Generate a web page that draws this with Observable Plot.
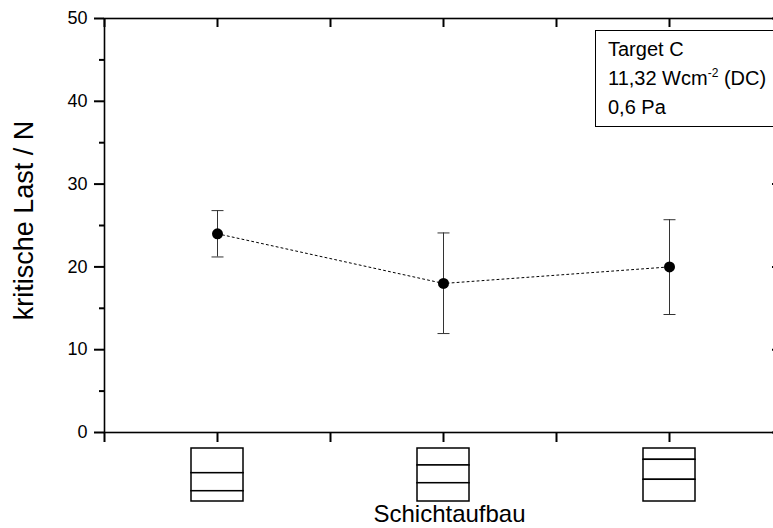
<!DOCTYPE html>
<html>
<head>
<meta charset="utf-8">
<script src="https://cdn.jsdelivr.net/npm/d3@7"></script>
<script src="https://cdn.jsdelivr.net/npm/@observablehq/plot@0.6"></script>
<style>
  html, body { margin: 0; padding: 0; background: #fff; overflow: hidden; }
  #wrap { position: relative; width: 773px; height: 528px; overflow: hidden; background: #fff; }
  #main { position: absolute; left: 0; top: 0; }
  #icons { position: absolute; left: 0; top: 447px; }
  #wrap svg { max-width: none !important; display: block; }
  #legend { position: absolute; left: 595px; top: 30px; width: 200px; height: 97px; box-sizing: border-box;
            border: 1px solid #000; background: #fff; font-family: "Liberation Sans", Arial, sans-serif; font-size: 20px; color: #000; }
  #legend .l { position: absolute; left: 12px; line-height: 29px; white-space: nowrap; }
  #legend sup { font-size: 12px; line-height: 0; vertical-align: 8px; }
</style>
</head>
<body>
<div id="wrap">
  <div id="main"></div>
  <div id="icons"></div>
  <div id="legend"></div>
</div>
<script>
// ---- data ----
const categories = [1, 2, 3];
const values = [24.0, 18.0, 20.0];
const errLow = [21.2, 11.95, 14.25];
const errHigh = [26.8, 24.1, 25.7];
const yTicks = [0, 10, 20, 30, 40, 50];
const yMinorTicks = [5, 15, 25, 35, 45];
const xTicks = [0.5, 1, 1.5, 2, 2.5, 3, 3.5];
// layer boundaries of the layer-stack schematic (fraction of stack height from top)
const layerBounds = [
  [0, 0.466, 0.806, 1],
  [0, 0.32, 0.655, 1],
  [0, 0.213, 0.59, 1]
];
const xLabel = "Schichtaufbau";
const yLabel = "kritische Last / N";
const legendLines = ["Target C", "11,32 Wcm<sup>-2</sup> (DC)", "0,6 Pa"];

// ---- derived tables ----
const data = categories.map((c, i) => ({x: c, y: values[i], lo: errLow[i], hi: errHigh[i]}));
const layers = [];
categories.forEach((c, i) => {
  const b = layerBounds[i];
  for (let k = 0; k < b.length - 1; k++) layers.push({cat: c, top: b[k], bot: b[k + 1]});
});

const W = 790, H = 528, mL = 104, mR = 8, mT = 18, mB = 96;
const frameW = W - mL - mR, frameH = H - mT - mB;
const capSymbol = {draw(ctx) { ctx.moveTo(-6, 0); ctx.lineTo(6, 0); }};
const font = "'Liberation Sans', Arial, sans-serif";

const main = Plot.plot({
  width: W, height: H,
  marginLeft: mL, marginRight: mR, marginTop: mT, marginBottom: mB,
  x: {domain: [0.5, 3.5]},
  y: {domain: [0, 50]},
  style: {fontFamily: font, fontSize: "18px", color: "#000", background: "transparent", maxWidth: "none"},
  marks: [
    Plot.frame({stroke: "#000", strokeWidth: 1.6}),
    Plot.axisY({ticks: yTicks, tickSize: 10, tickPadding: 7, strokeWidth: 2, label: null, fontSize: 18}),
    Plot.axisY({ticks: yMinorTicks, tickSize: 5, tickFormat: () => "", strokeWidth: 2, label: null}),
    Plot.axisX({ticks: xTicks, tickSize: 10, tickFormat: () => "", strokeWidth: 2, label: null}),
    Plot.ruleX(xTicks, {x: d => d, insetBottom: frameH - 9, strokeWidth: 2}),
    Plot.ruleY(yTicks, {y: d => d, insetLeft: frameW - 10, strokeWidth: 2}),
    Plot.ruleY(yMinorTicks, {y: d => d, insetLeft: frameW - 5, strokeWidth: 2}),
    Plot.line(data, {x: "x", y: "y", stroke: "#000", strokeWidth: 1, strokeDasharray: "2,3"}),
    Plot.ruleX(data, {x: "x", y1: "lo", y2: "hi", stroke: "#333", strokeWidth: 1}),
    Plot.dot(data, {x: "x", y: "lo", symbol: capSymbol, stroke: "#333", fill: "none", strokeWidth: 1}),
    Plot.dot(data, {x: "x", y: "hi", symbol: capSymbol, stroke: "#333", fill: "none", strokeWidth: 1}),
    Plot.dot(data, {x: "x", y: "y", r: 5.5, fill: "#000", stroke: "none"}),
    Plot.text([xLabel], {frameAnchor: "bottom", dy: 89, dx: 6, textAnchor: "middle", lineAnchor: "bottom", fontSize: 24, fill: "#000"}),
    Plot.text([yLabel], {frameAnchor: "left", dx: -80, dy: -5, textAnchor: "middle", rotate: -90, fontSize: 27, fill: "#000"})
  ]
});
document.getElementById("main").appendChild(main);

const icons = Plot.plot({
  width: W, height: 55,
  marginLeft: mL, marginRight: mR, marginTop: 1, marginBottom: 1,
  x: {type: "band", domain: categories, paddingInner: 0.77, paddingOuter: 0.385, axis: null},
  y: {domain: [0, 1], reverse: true, axis: null},
  style: {background: "transparent", maxWidth: "none"},
  marks: [
    Plot.barY(layers, {x: "cat", y1: "top", y2: "bot", fill: "#fff", stroke: "#000", strokeWidth: 1.5})
  ]
});
document.getElementById("icons").appendChild(icons);

const legend = document.getElementById("legend");
const baselines = [56, 85, 114];
legendLines.forEach((t, i) => {
  const d = document.createElement("div");
  d.className = "l";
  d.style.top = (baselines[i] - 21.45 - 31) + "px";
  d.innerHTML = t;
  legend.appendChild(d);
});
</script>
</body>
</html>
